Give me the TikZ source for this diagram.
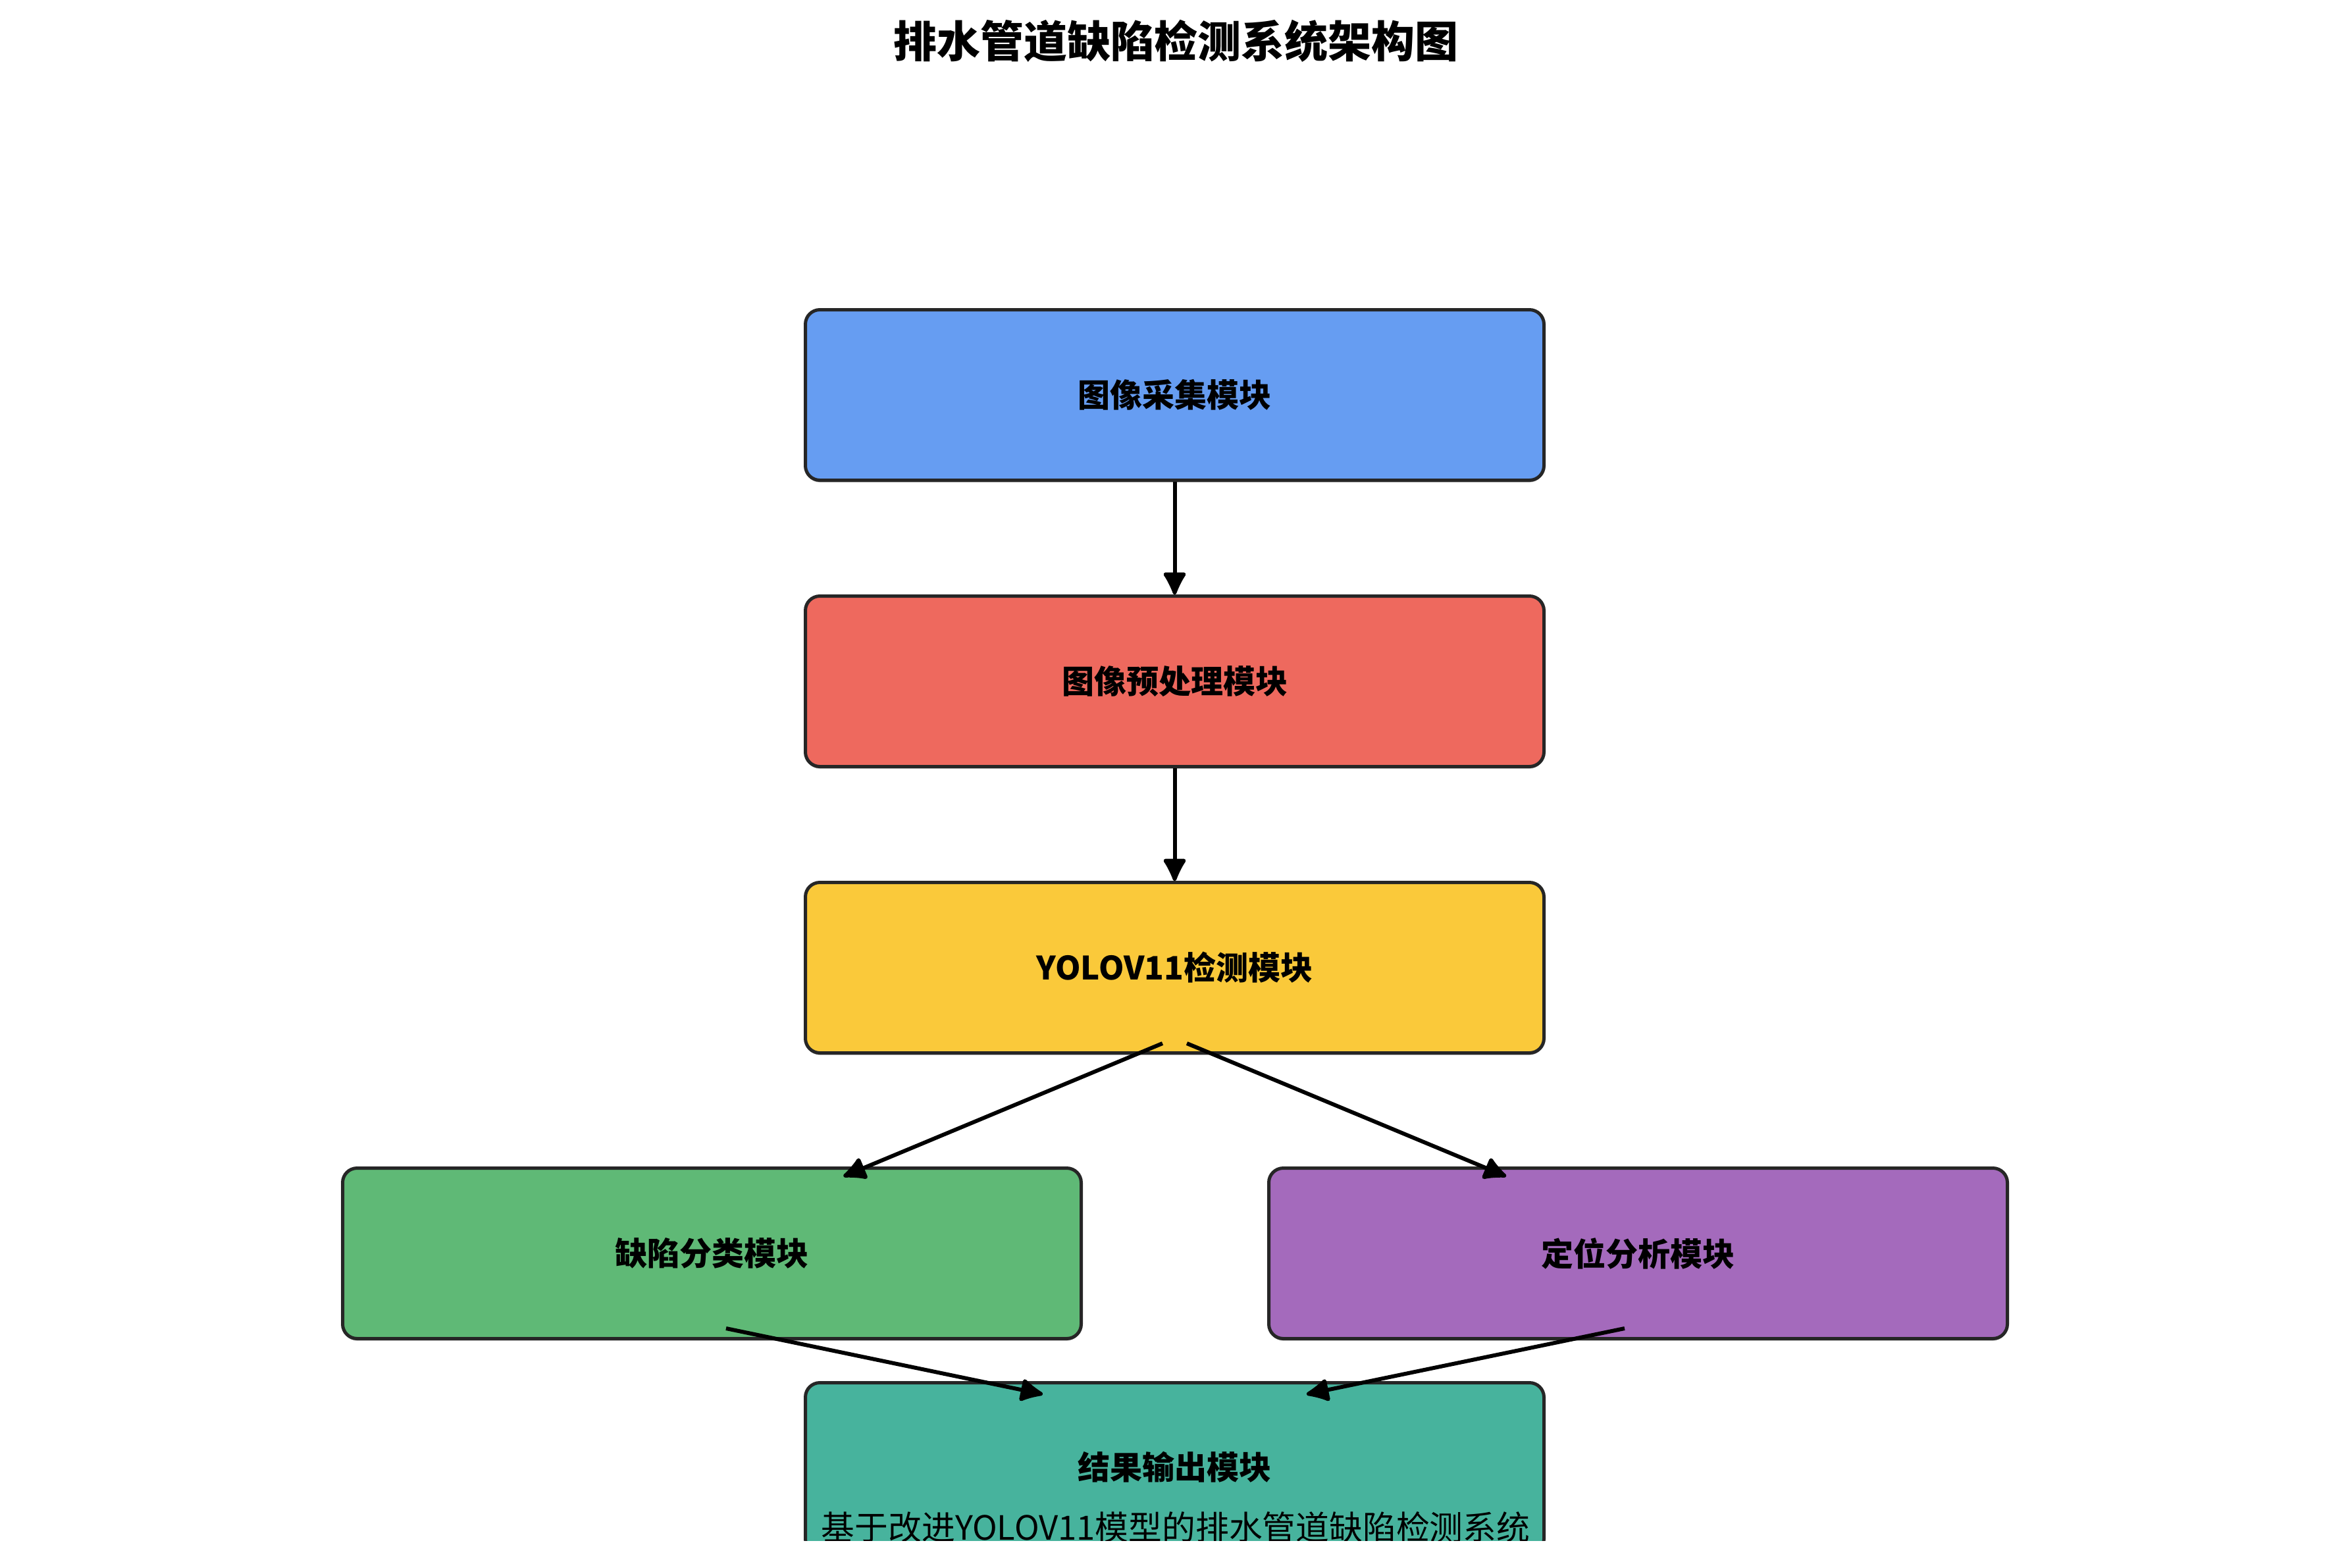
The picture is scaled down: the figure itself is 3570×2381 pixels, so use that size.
\documentclass[tikz,border=0pt]{standalone}
\usepackage{fontspec}
\setmainfont{Noto Sans CJK SC}
\usetikzlibrary{arrows.meta,shadows,calc}
\definecolor{cblue}{HTML}{669DF2}
\definecolor{cred}{HTML}{EE695E}
\definecolor{cyellow}{HTML}{FAC93A}
\definecolor{cgreen}{HTML}{5FB976}
\definecolor{cpurple}{HTML}{A46ABC}
\definecolor{cteal}{HTML}{47B39D}
\definecolor{cborder}{HTML}{262626}
\tikzset{
  modbox/.style={draw=cborder, line width=1.25pt, rounded corners=5.5pt,
    minimum width=280.5pt, minimum height=64.75pt, inner sep=0pt,
    font=\bfseries\fontsize{12.25pt}{14pt}\selectfont,
    drop shadow={shadow xshift=0pt, shadow yshift=-0.8pt, opacity=0.35, fill=black}},
  arr/.style={line width=1.5pt, -{Latex[length=10pt,width=10pt,round]}},
  titletext/.style={font=\bfseries\fontsize{16.5pt}{19pt}\selectfont},
  labeltext/.style={font=\bfseries\fontsize{12.25pt}{14pt}\selectfont},
  subtext/.style={font=\fontsize{12.7pt}{15pt}\selectfont}
}
\begin{document}
\begin{tikzpicture}[x=0.25pt,y=-0.25pt]
\useasboundingbox (0,0) rectangle (3570,2381);
\begin{scope}
\clip (0,0) rectangle (3570,2340);
\node[titletext] (title) at (1786,62) {排水管道缺陷检测系统架构图};
\node[modbox, fill=cblue]   (b1) at (1784.5,600)  {图像采集模块};
\node[modbox, fill=cred]    (b2) at (1784.5,1035) {图像预处理模块};
\node[modbox, fill=cyellow] (b3) at (1784.5,1470) {YOLOV11检测模块};
\node[modbox, fill=cgreen]  (b4) at (1081.5,1904) {缺陷分类模块};
\node[modbox, fill=cpurple] (b5) at (2488.5,1904) {定位分析模块};
\node[modbox, fill=cteal] (b6) at (1784.5,2230) {};
\node[labeltext] (l6) at (1784.5,2229) {结果输出模块};
\node[subtext] (sub) at (1786,2320) {基于改进YOLOV11模型的排水管道缺陷检测系统};

\coordinate (s34) at ($(b3.south)+(-18.5,-17)$);
\coordinate (s35) at ($(b3.south)+(18.5,-17)$);
\coordinate (t4) at ($(b4.north)+(200,15)$);
\coordinate (t5) at ($(b5.north)+(-200.5,15)$);
\coordinate (s46) at ($(b4.south)+(21.5,-18)$);
\coordinate (s56) at ($(b5.south)+(-20.5,-18)$);
\coordinate (t64) at ($(b6.north)+(-200.5,20)$);
\coordinate (t65) at ($(b6.north)+(200.5,20)$);

\draw[arr] (b1) -- (b2);
\draw[arr] (b2) -- (b3);
\draw[arr] (s34) -- (t4);
\draw[arr] (s35) -- (t5);
\draw[arr] (s46) -- (t64);
\draw[arr] (s56) -- (t65);
\end{scope}
\end{tikzpicture}
\end{document}
